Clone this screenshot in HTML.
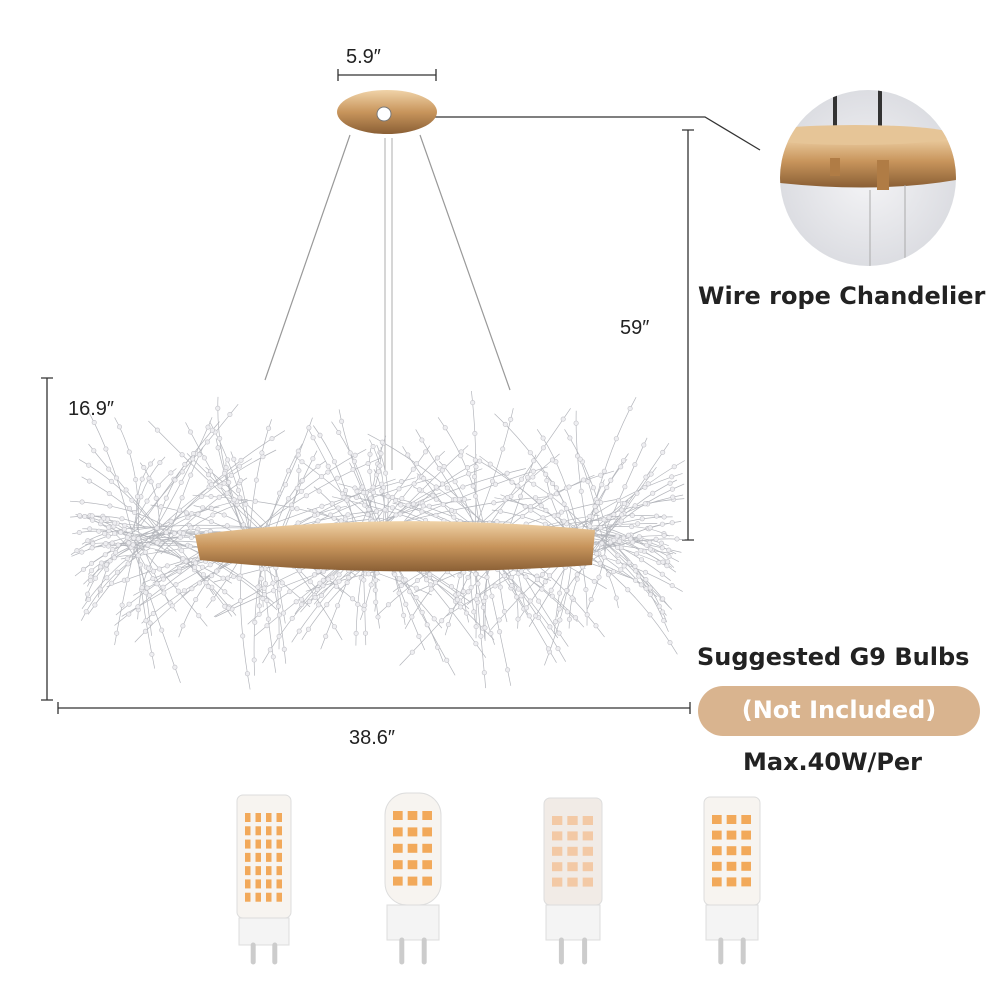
<!DOCTYPE html>
<html><head><meta charset="utf-8"><style>
body{margin:0;background:#fff;width:1000px;height:1000px;overflow:hidden;font-family:"Liberation Sans",sans-serif}
.t{position:absolute;font-weight:bold;color:#222;white-space:nowrap;font-family:"DejaVu Sans",sans-serif;font-size:24px}
.d{position:absolute;font-size:20px;color:#222}
</style></head><body>
<svg id="s" width="1000" height="1000" style="position:absolute;left:0;top:0">
<defs>
<linearGradient id="g" x1="0" y1="0" x2="0" y2="1"><stop offset="0" stop-color="#f0d3a8"/><stop offset=".5" stop-color="#c8955c"/><stop offset="1" stop-color="#8a5f35"/></linearGradient>
<radialGradient id="cg"><stop offset="0" stop-color="#f4f4f6"/><stop offset="1" stop-color="#dcdde2"/></radialGradient>
</defs>
<g stroke="#333" stroke-width="1.3" fill="none">
<path d="M338 75H436M338 69v12M436 69v12"/>
<path d="M688 130V540M682 130h12M682 540h12"/>
<path d="M47 378V700M41 378h12M41 700h12"/>
<path d="M58 708H690M58 702v12M690 702v12"/>
<path d="M410 117H705L760 150"/>
</g>
<g stroke="#999" stroke-width="1.2"><path d="M350 135L265 380M420 135L510 390"/><path d="M385 138V470M392 138V470" stroke="#bbb"/></g>
<ellipse cx="387" cy="112" rx="50" ry="22" fill="url(#g)"/>
<circle cx="384" cy="114" r="7" fill="#fff" stroke="#777"/>
<g id="spray" stroke="#b3b5bb" stroke-width="0.7" fill="none"></g>
<g id="dots" fill="#eeeef1" stroke="#c0c0c6" stroke-width=".6"></g>
<path d="M195 535Q380 510 595 530L592 565Q380 580 200 560Z" fill="url(#g)"/>
<circle cx="868" cy="178" r="88" fill="url(#cg)"/>
<clipPath id="cc"><circle cx="868" cy="178" r="88"/></clipPath>
<g clip-path="url(#cc)">
<path d="M835 85V130M880 85V135" stroke="#333" stroke-width="4"/>
<path d="M755 135H956V180Q868 195 755 180Z" fill="url(#g)"/>
<ellipse cx="855" cy="135" rx="100" ry="10" fill="#e6c597"/>
<rect x="877" y="160" width="12" height="30" fill="#b07c45"/>
<rect x="830" y="158" width="10" height="18" fill="#b07c45"/>
<path d="M870 190V270M905 185V270" stroke="#aaa"/>
</g>
<rect x="698" y="686" width="282" height="50" rx="25" fill="#d9b48f"/>
<g id="bulbs"></g>
</svg>
<div class="d" style="left:346px;top:46px">5.9″</div>
<div class="d" style="left:620px;top:317px">59″</div>
<div class="d" style="left:68px;top:398px">16.9″</div>
<div class="d" style="left:349px;top:727px">38.6″</div>
<div class="t" style="left:698px;top:282px">Wire rope Chandelier</div>
<div class="t" style="left:697px;top:643px">Suggested G9 Bulbs</div>
<div class="t" style="left:698px;top:696px;width:282px;text-align:center;color:#fff">(Not Included)</div>
<div class="t" style="left:743px;top:748px">Max.40W/Per</div>
<script>
var sp=document.getElementById('spray'),dt=document.getElementById('dots'),h='',d='';
var seed=7;function r(){seed=(seed*9301+49297)%233280;return seed/233280;}
var cs=[150,260,375,490,590];
for(var i=0;i<330;i++){var cx=cs[i%5]+(r()-.5)*40,cy=540+(r()-.5)*30;var a=r()*6.283,L=80+r()*90;
var ex=cx+Math.cos(a)*L*1.1,ey=cy+Math.sin(a)*L*0.85;if(ex<70)ex=70+r()*20;if(ex>685)ex=685-r()*20;
var mx=(cx+ex)/2+(r()-.5)*30,my=(cy+ey)/2-10;
h+='<path d="M'+cx.toFixed(1)+' '+cy.toFixed(1)+'Q'+mx.toFixed(1)+' '+my.toFixed(1)+' '+ex.toFixed(1)+' '+ey.toFixed(1)+'"/>';
for(var k=0;k<3;k++){var t=.4+k*.25;var px=(1-t)*(1-t)*cx+2*t*(1-t)*mx+t*t*ex,py=(1-t)*(1-t)*cy+2*t*(1-t)*my+t*t*ey;d+='<circle cx="'+px.toFixed(1)+'" cy="'+py.toFixed(1)+'" r="2.2"/>';}}
sp.innerHTML=h;dt.innerHTML=d;
var B=[[237,291,795,918,945,962],[385,441,793,905,940,962],[544,602,798,905,940,962],[704,760,797,905,940,962]],b='';
B.forEach(function(q,j){var x0=q[0],x1=q[1],w=x1-x0;
b+='<rect x="'+x0+'" y="'+q[2]+'" width="'+w+'" height="'+(q[3]-q[2])+'" rx="'+(j==1?22:6)+'" fill="'+(j==2?'#f1ebe6':'#f7f4f0')+'" stroke="#ddd"/>';
var cols=j==0?4:3,rows=j==0?7:5;for(var y=0;y<rows;y++)for(var c=0;c<cols;c++){b+='<rect x="'+(x0+6+c*(w-12)/cols+2)+'" y="'+(q[2]+18+y*(q[3]-q[2]-30)/rows)+'" width="'+((w-12)/cols-5)+'" height="9" fill="'+(j==2?'#f3c9a5':'#f2a95a')+'"/>';}
b+='<rect x="'+(x0+2)+'" y="'+q[3]+'" width="'+(w-4)+'" height="'+(q[4]-q[3])+'" fill="#f4f4f4" stroke="#ddd"/>';
b+='<path d="M'+(x0+w*.3)+' '+q[4]+'v'+(q[5]-q[4])+'M'+(x0+w*.7)+' '+q[4]+'v'+(q[5]-q[4])+'" stroke="#ccc" stroke-width="5" stroke-linecap="round"/>';});
document.getElementById('bulbs').innerHTML=b;
</script>
</body></html>
